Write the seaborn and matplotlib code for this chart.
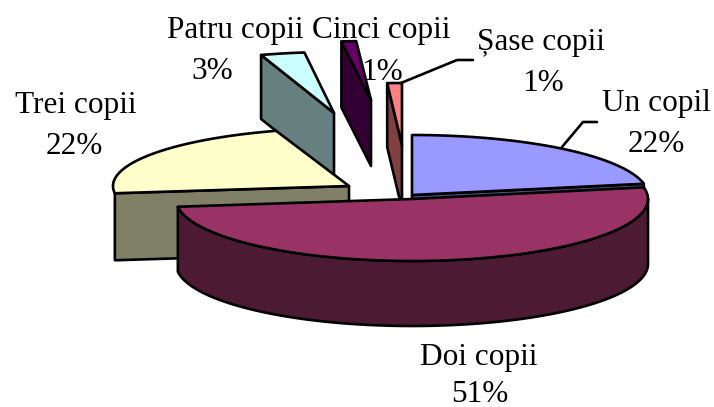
import numpy as np
import matplotlib.pyplot as plt
import seaborn as sns

# data
categories = ["Un copil", "Doi copii", "Trei copii", "Patru copii", "Cinci copii", "Șase copii"]
shares = [22, 51, 22, 3, 1, 1]

# colours, top face and cut face
top_colors = sns.color_palette(["#9999FF", "#993366", "#FFFFCC", "#CCFFFF", "#660066", "#FF8080"])
side_colors = sns.color_palette(["#4D4D80", "#4D1A33", "#808066", "#668080", "#330033", "#804040"])

# pie geometry in pixels
rx = 236
ry = [60, 62, 58, 61, 59, 62]
apex_x = [412, 412, 349, 334, 371, 402]
apex_y = [195, 199, 186, 113, 100, 145]
depth = [60, 65, 67, 64, 66, 64]

# label positions: name x, name baseline, percent x, percent baseline
name_pos = [(656, 111), (479, 365), (76, 113), (235, 38), (381, 38), (541, 50)]
pct_pos = [(656, 152), (480, 402), (74, 154), (212, 79), (382, 80), (543, 91)]

sns.set_style("white")
plt.rcParams["font.family"] = ["Liberation Serif", "DejaVu Sans"]

fig, ax = plt.subplots(figsize=(7.14, 4.07), dpi=100)
ax.set_position([0, 0, 1, 1])
ax.set_xlim(0, 714)
ax.set_ylim(407, 0)
ax.axis("off")

ends = np.cumsum(shares) * 3.6
starts = ends - np.array(shares) * 3.6
line_w = 1.9


def rim(i, a, b):
    t = np.radians(np.linspace(a, b, 120))
    return apex_x[i] + rx * np.sin(t), apex_y[i] - ry[i] * np.cos(t)


def draw_slice(i):
    cx, cy, d = apex_x[i], apex_y[i], depth[i]
    x, y = rim(i, starts[i], ends[i])
    if i == 1:
        # front wall of the big slice
        xs, ys = rim(i, 90, ends[i])
        ax.fill(np.r_[xs, xs[::-1]], np.r_[ys, ys[::-1] + d],
                fc=side_colors[i], ec="black", lw=line_w, joinstyle="round")
    elif i == 0:
        # cut face facing the viewer
        ax.fill([x[-1], cx, cx, x[-1]], [y[-1], cy, cy + d, y[-1] + d],
                fc=side_colors[i], ec="black", lw=line_w, joinstyle="round")
    else:
        # cut face on the left side of the other slices
        ax.fill([x[0], cx, cx, x[0]], [y[0], cy, cy + d, y[0] + d],
                fc=side_colors[i], ec="black", lw=line_w, joinstyle="round")
    ax.fill(np.r_[cx, x], np.r_[cy, y], fc=top_colors[i], ec="black", lw=line_w, joinstyle="round")


# back to front
for i in [5, 4, 3, 2, 0, 1]:
    draw_slice(i)

# leader lines
ax.plot([401, 457, 473], [83, 60, 60], color="black", lw=line_w)
ax.plot([562, 583, 597], [147, 122, 122], color="black", lw=line_w)

for i, name in enumerate(categories):
    ax.text(name_pos[i][0], name_pos[i][1], name, fontsize=22.5, color="black", ha="center", va="baseline")
    ax.text(pct_pos[i][0], pct_pos[i][1], f"{shares[i]}%", fontsize=22.5, color="black", ha="center", va="baseline")

fig.savefig("out.png", dpi=100)
